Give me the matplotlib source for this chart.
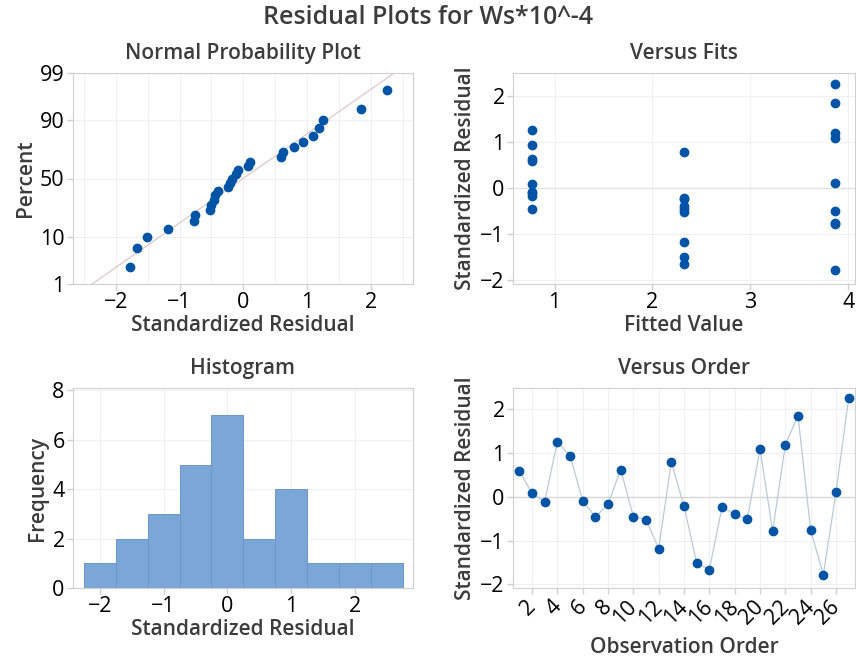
from statistics import NormalDist
import numpy as np
import matplotlib
matplotlib.use("Agg")
import matplotlib.pyplot as plt
from matplotlib.transforms import ScaledTranslation

plt.rcParams['font.family'] = ['Open Sans', 'DejaVu Sans']

# standardized residuals, observation order 1..27
residuals = [0.59, 0.08, -0.11, 1.25, 0.94, -0.09, -0.46, -0.17, 0.62,
             -0.45, -0.52, -1.18, 0.79, -0.21, -1.51, -1.66, -0.24, -0.40,
             -0.51, 1.09, -0.78, 1.19, 1.85, -0.76, -1.78, 0.10, 2.25]
fitted = [0.77] * 9 + [2.32] * 9 + [3.87] * 9
order = list(range(1, 28))
pct_ticks = [1, 10, 50, 90, 99]
hist_edges = np.arange(-2.25, 2.76, 0.5)

blue = '#0054a6'
title_col = '#3c3c3c'
spine_col = '#d0d0d0'
grid_col = '#f0f0f0'

nd = NormalDist()
res = np.array(residuals)

fig = plt.figure(figsize=(8.56, 6.58), dpi=100)
W, H = 856, 658

def make_ax(l, t, r, b):
    ax = fig.add_axes([l / W, 1 - b / H, (r - l) / W, (b - t) / H])
    for s in ax.spines.values():
        s.set_color(spine_col)
    ax.tick_params(labelsize=15.5, colors=spine_col, labelcolor='black',
                   length=4, width=1, pad=2)
    ax.grid(True, color=grid_col, lw=0.8)
    ax.set_axisbelow(True)
    return ax

def titles(ax, title, xl, yl, xpad=1):
    ax.set_title(title, fontsize=15, color=title_col, fontweight='semibold', pad=10)
    ax.set_xlabel(xl, fontsize=15, color=title_col, fontweight='semibold', labelpad=xpad)
    ax.set_ylabel(yl, fontsize=15, color=title_col, fontweight='semibold', labelpad=3)

# Normal probability plot
ax1 = make_ax(73, 73, 413, 284)
srt = np.sort(res)
n = len(srt)
z = np.array([nd.inv_cdf((i - 0.3) / (n + 0.4)) for i in range(1, n + 1)])
mu, sd = res.mean(), res.std(ddof=1)
zl = np.array([nd.inv_cdf(0.001), nd.inv_cdf(0.999)])
ax1.plot(mu + sd * zl, zl, color='#e0cdd0', lw=1, zorder=2)
ax1.plot(srt, z, 'o', color=blue, ms=6, zorder=3)
ax1.set_yticks([nd.inv_cdf(p / 100) for p in pct_ticks])
ax1.set_yticklabels([str(p) for p in pct_ticks])
ax1.set_ylim(nd.inv_cdf(0.01), nd.inv_cdf(0.99))
ax1.set_xlim(-2.67, 2.66)
ax1.set_xticks([-2, -1, 0, 1, 2])
ax1.set_xticks(np.arange(-2.5, 2.6, 0.5), minor=True)
ax1.tick_params(which='minor', length=0)
ax1.grid(True, which='minor', axis='x', color=grid_col, lw=0.8)
titles(ax1, 'Normal Probability Plot', 'Standardized Residual', 'Percent')

# Versus fits
ax2 = make_ax(513, 73, 855, 284)
ax2.axhline(0, color='#e2e2e2', lw=1, zorder=1)
ax2.plot(fitted, residuals, 'o', color=blue, ms=6, zorder=3)
ax2.set_xlim(0.575, 4.07)
ax2.set_ylim(-2.09, 2.5)
ax2.set_xticks([1, 2, 3, 4])
ax2.set_yticks([-2, -1, 0, 1, 2])
titles(ax2, 'Versus Fits', 'Fitted Value', 'Standardized Residual')

# Histogram
ax3 = make_ax(73, 388, 413, 588)
ax3.hist(res, bins=hist_edges, color='#7ba6d8', edgecolor='#6f96c6', lw=0.7, zorder=2)
ax3.set_xlim(-2.42, 2.91)
ax3.set_ylim(0, 8.1)
ax3.set_xticks([-2, -1, 0, 1, 2])
ax3.set_yticks([0, 2, 4, 6, 8])
titles(ax3, 'Histogram', 'Standardized Residual', 'Frequency')

# Versus order
ax4 = make_ax(513, 388, 855, 588)
ax4.axhline(0, color='#d8d8d8', lw=1, zorder=1)
ax4.plot(order, residuals, '-', color='#b9cbd8', lw=0.9, zorder=2)
ax4.plot(order, residuals, 'o', color=blue, ms=6, zorder=3)
ax4.set_xlim(0.5, 27.5)
ax4.set_ylim(-2.08, 2.48)
ax4.set_xticks(range(2, 27, 2))
ax4.set_yticks([-2, -1, 0, 1, 2])
shift = ScaledTranslation(8 / 100, 0, fig.dpi_scale_trans)
for lab in ax4.get_xticklabels():
    lab.set_rotation(45)
    lab.set_ha('right')
    lab.set_va('top')
    lab.set_transform(lab.get_transform() + shift)
titles(ax4, 'Versus Order', 'Observation Order', 'Standardized Residual', xpad=6)

fig.text(0.5, 1 - 18 / H, 'Residual Plots for Ws*10^-4', ha='center', va='center',
         fontsize=18, color=title_col, fontweight='semibold')

fig.savefig('out.png', dpi=100)
